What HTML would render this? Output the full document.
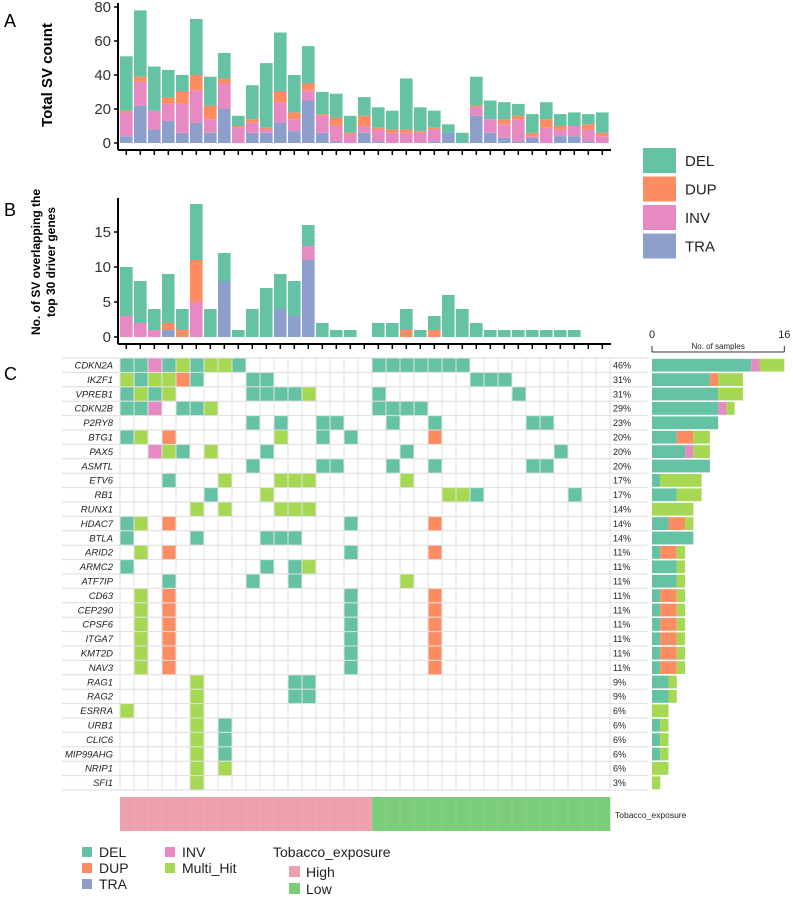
<!DOCTYPE html>
<html><head><meta charset="utf-8"><style>
html,body{margin:0;padding:0;background:#fff;}
svg{display:block;font-family:"Liberation Sans",sans-serif;}
</style></head><body>
<svg id="c" width="793" height="899" viewBox="0 0 793 899" xmlns="http://www.w3.org/2000/svg">
<text x="4" y="27" font-size="18">A</text>
<text x="4" y="216" font-size="18">B</text>
<text x="4" y="380" font-size="18">C</text>
<text transform="translate(52,75) rotate(-90)" text-anchor="middle" font-size="15" font-weight="bold">Total SV count</text>
<text transform="translate(48,262) rotate(-90)" text-anchor="middle" font-size="12" font-weight="bold"><tspan x="0" dy="-8">No. of SV overlapping the</tspan><tspan x="0" dy="15">top 30 driver genes</tspan></text>
<g id="gA"></g>
<g id="gB"></g>
<g id="gC"></g>
<g id="gR"></g>
<g id="gL"></g>
</svg>
<script>
// Panel A: total SV counts per sample (stack: TRA, INV, DUP, DEL)
const aTRA=[4,22,8,13,6,12,6,20,0,6,6,12,7,25,6,1,0,6,1,0,0,0,1,6,0,16,6,3,1,3,0,4,4,1,0];
const aINV=[14,14,11,10,17,19,8,15,9,6,2,12,7,6,10,9,5,4,7,6,6,6,7,0,0,5,8,8,13,1,9,4,6,7,4];
const aDUP=[1,3,0,4,7,9,8,3,1,2,1,6,4,4,1,5,1,6,1,2,2,1,1,0,0,1,0,3,2,2,5,2,0,3,2];
const aDEL=[32,39,26,16,10,33,17,15,6,20,38,35,22,22,13,14,10,11,12,11,30,14,10,5,6,17,11,10,7,11,10,7,8,6,12];
const aTicks=[0,20,40,60,80];
// Panel B: SV overlapping driver genes
const bTRA=[0,0,0,1,0,0,0,8,0,0,0,4,3,11,0,0,0,0,0,0,0,0,0,0,0,0,0,0,0,0,0,0,0,0,0];
const bINV=[3,2,1,0,0,5,0,0,0,0,0,0,0,2,0,0,0,0,0,0,0,0,0,0,0,0,0,0,0,0,0,0,0,0,0];
const bDUP=[0,0,0,1,1,6,0,0,0,0,0,0,0,0,0,0,0,0,0,0,1,0,1,0,0,0,0,0,0,0,0,0,0,0,0];
const bDEL=[7,6,3,7,3,8,4,4,1,4,7,5,5,3,2,1,1,0,2,2,3,1,2,6,4,2,1,1,1,1,1,1,1,0,0];
const bTicks=[0,5,10,15];
// Panel C: oncoprint. Each gene: list of [column(1-based), type]
const genes=["CDKN2A","IKZF1","VPREB1","CDKN2B","P2RY8","BTG1","PAX5","ASMTL","ETV6","RB1","RUNX1","HDAC7","BTLA","ARID2","ARMC2","ATF7IP","CD63","CEP290","CPSF6","ITGA7","KMT2D","NAV3","RAG1","RAG2","ESRRA","URB1","CLIC6","MIP99AHG","NRIP1","SFI1"];
const pct=["46%","31%","31%","29%","23%","20%","20%","20%","17%","17%","14%","14%","14%","11%","11%","11%","11%","11%","11%","11%","11%","11%","9%","9%","6%","6%","6%","6%","6%","3%"];
const cdn=[[1,"D"],[9,"D"],[19,"D"],[20,"D"],[21,"D"],[22,"D"],[23,"D"],[24,"D"],[25,"D"]];
const muts=[
 [[1,"D"],[2,"D"],[3,"I"],[4,"D"],[5,"M"],[6,"D"],[7,"M"],[8,"M"],[9,"D"],[19,"D"],[20,"D"],[21,"D"],[22,"D"],[23,"D"],[24,"D"],[25,"D"]],
 [[1,"M"],[2,"D"],[3,"M"],[4,"M"],[5,"U"],[6,"D"],[10,"D"],[11,"D"],[26,"D"],[27,"D"],[28,"D"]],
 [[1,"D"],[2,"M"],[3,"D"],[4,"M"],[10,"D"],[11,"D"],[12,"D"],[13,"D"],[14,"M"],[19,"D"],[29,"D"]],
 [[1,"D"],[2,"D"],[3,"I"],[5,"D"],[6,"D"],[7,"M"],[19,"D"],[20,"D"],[21,"D"],[22,"D"]],
 [[10,"D"],[12,"D"],[15,"D"],[16,"D"],[20,"D"],[23,"D"],[30,"D"],[31,"D"]],
 [[1,"D"],[2,"M"],[4,"U"],[12,"M"],[15,"D"],[17,"D"],[23,"U"]],
 [[3,"I"],[4,"M"],[5,"D"],[7,"M"],[11,"D"],[21,"D"],[32,"D"]],
 [[10,"D"],[15,"D"],[16,"D"],[20,"D"],[23,"D"],[30,"D"],[31,"D"]],
 [[4,"D"],[8,"M"],[12,"M"],[13,"M"],[14,"M"],[21,"M"]],
 [[7,"D"],[11,"M"],[24,"M"],[25,"M"],[26,"D"],[33,"D"]],
 [[6,"M"],[8,"M"],[12,"M"],[13,"M"],[14,"M"]],
 [[1,"D"],[2,"M"],[4,"U"],[17,"D"],[23,"U"]],
 [[1,"D"],[6,"D"],[11,"D"],[12,"D"],[13,"D"]],
 [[2,"M"],[4,"U"],[17,"D"],[23,"U"]],
 [[1,"D"],[11,"D"],[13,"D"],[14,"M"]],
 [[4,"D"],[10,"D"],[13,"D"],[21,"M"]],
 [[2,"M"],[4,"U"],[17,"D"],[23,"U"]],
 [[2,"M"],[4,"U"],[17,"D"],[23,"U"]],
 [[2,"M"],[4,"U"],[17,"D"],[23,"U"]],
 [[2,"M"],[4,"U"],[17,"D"],[23,"U"]],
 [[2,"M"],[4,"U"],[17,"D"],[23,"U"]],
 [[2,"M"],[4,"U"],[17,"D"],[23,"U"]],
 [[6,"M"],[13,"D"],[14,"D"]],
 [[6,"M"],[13,"D"],[14,"D"]],
 [[1,"M"],[6,"M"]],
 [[6,"M"],[8,"D"]],
 [[6,"M"],[8,"D"]],
 [[6,"M"],[8,"D"]],
 [[6,"M"],[8,"M"]],
 [[6,"M"]]
];
const tobacco=["H","H","H","H","H","H","H","H","H","H","H","H","H","H","H","H","H","H","L","L","L","L","L","L","L","L","L","L","L","L","L","L","L","L","L"];
const rTicks=[0,16];

const COL={D:"#66c2a5",U:"#fc8d62",I:"#e78ac3",T:"#8da0cb",M:"#a6d854"};
const NS="http://www.w3.org/2000/svg";
function mk(tag,attrs,parent){const e=document.createElementNS(NS,tag);for(const k in attrs)e.setAttribute(k,attrs[k]);parent.appendChild(e);return e;}
const N=aDEL.length, X0=120, STEP=14, BW=12.6;
const xs=i=>X0+i*STEP;

// Panel A
const gA=document.getElementById('gA');
const yA=v=>143-v*1.7;
mk('line',{x1:118,y1:3,x2:118,y2:150,stroke:'#000','stroke-width':2},gA);
mk('line',{x1:118,y1:150,x2:611,y2:150,stroke:'#000','stroke-width':2},gA);
aTicks.forEach(t=>{
 const tl=mk('text',{x:111,y:yA(t)+5,'text-anchor':'end','font-size':15,fill:'#333'},gA);tl.textContent=t;
 
 
 mk('line',{x1:114,y1:yA(t),x2:118,y2:yA(t),stroke:'#000','stroke-width':1.5},gA);
});
for(let i=0;i<N;i++){
 mk('line',{x1:xs(i)+BW/2,y1:150,x2:xs(i)+BW/2,y2:155,stroke:'#000','stroke-width':1.5},gA);
 let base=0;
 [[aTRA,'T'],[aINV,'I'],[aDUP,'U'],[aDEL,'D']].forEach(([arr,k])=>{
  const v=arr[i]; if(v<=0)return;
  const r=mk('rect',{x:xs(i),y:yA(base+v),width:BW,height:v*1.7,fill:COL[k]},gA);
  
  
  base+=v;
 });
}
// Panel B
const gB=document.getElementById('gB');
const yB=v=>337-v*7;
mk('line',{x1:118,y1:198,x2:118,y2:344,stroke:'#000','stroke-width':2},gB);
mk('line',{x1:118,y1:344,x2:611,y2:344,stroke:'#000','stroke-width':2},gB);
bTicks.forEach(t=>{
 const tl=mk('text',{x:111,y:yB(t)+5,'text-anchor':'end','font-size':15,fill:'#333'},gB);tl.textContent=t;
 
 
 mk('line',{x1:114,y1:yB(t),x2:118,y2:yB(t),stroke:'#000','stroke-width':1.5},gB);
});
for(let i=0;i<N;i++){
 mk('line',{x1:xs(i)+BW/2,y1:344,x2:xs(i)+BW/2,y2:349,stroke:'#000','stroke-width':1.5},gB);
 let base=0;
 [[bTRA,'T'],[bINV,'I'],[bDUP,'U'],[bDEL,'D']].forEach(([arr,k])=>{
  const v=arr[i]; if(v<=0)return;
  const r=mk('rect',{x:xs(i),y:yB(base+v),width:BW,height:v*7,fill:COL[k]},gB);
  
  
  base+=v;
 });
}
// Panel C oncoprint
const gC=document.getElementById('gC');
const RT=358, RH=14.4;
const NG=genes.length;
for(let c=0;c<=N;c++) mk('line',{x1:X0+c*STEP,y1:RT,x2:X0+c*STEP,y2:RT+NG*RH,stroke:'#e2e2e2','stroke-width':1},gC);
for(let r=0;r<=NG;r++) mk('line',{x1:62,y1:RT+r*RH,x2:648,y2:RT+r*RH,stroke:'#dedede','stroke-width':1},gC);
genes.forEach((g,r)=>{
 const t=mk('text',{x:113,y:RT+r*RH+10.5,'text-anchor':'end','font-size':9.5,'font-style':'italic',fill:'#222'},gC);t.textContent=g;
 
 
 const p=mk('text',{x:613,y:RT+r*RH+10.5,'font-size':9,fill:'#222'},gC);p.textContent=pct[r];
 
 
 muts[r].forEach(([c,k])=>{
  const cell=mk('rect',{x:xs(c-1)+0.5,y:RT+r*RH+0.5,width:STEP-1,height:RH-1,fill:COL[k]},gC);
  
  
 });
});
tobacco.forEach((t,i)=>{
 const r=mk('rect',{x:xs(i),y:797,width:STEP+0.3,height:34,fill:t==='H'?'#eca1ad':'#7ccd7a'},gC);
 
 
});
for(let c=1;c<N;c++) mk('line',{x1:X0+c*STEP,y1:797,x2:X0+c*STEP,y2:831,stroke:'rgba(255,255,255,0.12)','stroke-width':1},gC);
const tx=mk('text',{x:615,y:818,'font-size':8.5,fill:'#222'},gC);tx.textContent='Tobacco_exposure';



// right bars
const gR=document.getElementById('gR');
const xR=v=>652+v*8.27;
mk('line',{x1:xR(0),y1:352,x2:xR(16),y2:352,stroke:'#333','stroke-width':1},gR);
mk('line',{x1:xR(0),y1:346,x2:xR(0),y2:352,stroke:'#333','stroke-width':1},gR);
mk('line',{x1:xR(16),y1:346,x2:xR(16),y2:352,stroke:'#333','stroke-width':1},gR);
rTicks.forEach(t=>{const e=mk('text',{x:xR(t),y:338,'text-anchor':'middle','font-size':11,fill:'#222'},gR);e.textContent=t;
 
 });
const nl=mk('text',{x:xR(8),y:349,'text-anchor':'middle','font-size':8,fill:'#222'},gR);nl.textContent='No. of samples';


muts.forEach((m,r)=>{
 let base=0;
 ['D','U','I','M'].forEach(k=>{
  const n=m.filter(x=>x[1]===k).length; if(!n)return;
  const b=mk('rect',{x:xR(base),y:RT+r*RH+0.8,width:n*8.27,height:RH-1.6,fill:COL[k]},gR);
  
  
  base+=n;
 });
});

// legends
const gL=document.getElementById('gL');
[['DEL','D'],['DUP','U'],['INV','I'],['TRA','T']].forEach(([n,k],i)=>{
 const y=148+i*28.5;
 const r=mk('rect',{x:643,y:y,width:33,height:25,fill:COL[k]},gL);
 
 
 const t=mk('text',{x:685,y:y+18,'font-size':15,fill:'#222'},gL);t.textContent=n;
 
 
});
[['DEL','D',82,856],['DUP','U',82,872],['TRA','T',82,888],['INV','I',165,856],['Multi_Hit','M',165,872]].forEach(([n,k,x,y])=>{
 const r=mk('rect',{x:x,y:y-9,width:10,height:10,fill:COL[k]},gL);
 
 
 const t=mk('text',{x:x+17,y:y+1,'font-size':14,fill:'#222'},gL);t.textContent=n;
 
 
});
const tt=mk('text',{x:273,y:857,'font-size':14,fill:'#222'},gL);tt.textContent='Tobacco_exposure';


[['High','#eca1ad',876],['Low','#7ccd7a',893]].forEach(([n,c,y])=>{
 const r=mk('rect',{x:289,y:y-10,width:11,height:11,fill:c},gL);
 
 
 const t=mk('text',{x:306,y:y+1,'font-size':14,fill:'#222'},gL);t.textContent=n;
 
 
});
</script>
</body></html>
